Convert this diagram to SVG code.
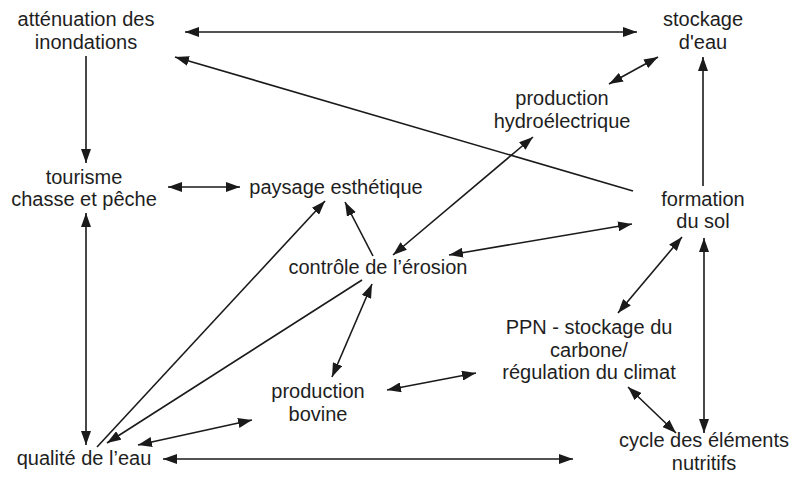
<svg xmlns="http://www.w3.org/2000/svg" width="792" height="479" viewBox="0 0 792 479">
<style>
text{font-family:"Liberation Sans",Arial,Helvetica,sans-serif;font-size:20px;fill:#1e1e1e;text-anchor:middle}
.c line{stroke:#1a1a1a;stroke-width:1.6;fill:none}
.b{marker-start:url(#ah);marker-end:url(#ah)}
.e{marker-end:url(#ah)}
</style>
<defs>
<marker id="ah" markerUnits="userSpaceOnUse" viewBox="0 0 14 10" markerWidth="14" markerHeight="10" refX="14" refY="5" orient="auto-start-reverse">
<path d="M0,0 L14,5 L0,10 z" fill="#1a1a1a"/>
</marker>
</defs>
<rect width="792" height="479" fill="#fff"/>
<g id="attenuation"><text x="86" y="26">atténuation des</text><text x="86" y="49">inondations</text></g>
<g id="stockage"><text x="703" y="26">stockage</text><text x="703" y="49">d'eau</text></g>
<g id="hydro"><text x="562" y="105">production</text><text x="562" y="128">hydroélectrique</text></g>
<g id="tourisme"><text x="84" y="184">tourisme</text><text x="84" y="206">chasse et pêche</text></g>
<g id="paysage"><text x="336" y="194">paysage esthétique</text></g>
<g id="formation"><text x="703" y="206">formation</text><text x="703" y="228">du sol</text></g>
<g id="erosion"><text x="378" y="274">contrôle de l’érosion</text></g>
<g id="ppn"><text x="589" y="334">PPN - stockage du</text><text x="589" y="357">carbone/</text><text x="589" y="379">régulation du climat</text></g>
<g id="bovine"><text x="318" y="398">production</text><text x="318" y="421">bovine</text></g>
<g id="qualite"><text x="84" y="465">qualité de l’eau</text></g>
<g id="cycle"><text x="704" y="447">cycle des éléments</text><text x="704" y="470">nutritifs</text></g>
<g id="connectors" class="c">
<line class="b" x1="185" y1="32" x2="637" y2="32"/>
<line class="e" x1="633" y1="191" x2="175" y2="57"/>
<line class="e" x1="86" y1="56" x2="86" y2="163"/>
<line class="b" x1="168" y1="187" x2="240" y2="187"/>
<line class="b" x1="86" y1="213" x2="86" y2="445"/>
<line class="e" x1="97" y1="447" x2="325" y2="201"/>
<line class="e" x1="373" y1="256" x2="345" y2="202"/>
<line class="e" x1="362" y1="280" x2="107" y2="443"/>
<line class="b" x1="372" y1="284" x2="332" y2="377"/>
<line class="b" x1="138" y1="445" x2="252" y2="420"/>
<line class="b" x1="163" y1="459" x2="573" y2="459"/>
<line class="b" x1="393" y1="255" x2="533" y2="137"/>
<line class="b" x1="609" y1="84" x2="658" y2="57"/>
<line class="e" x1="703" y1="186" x2="703" y2="57"/>
<line class="b" x1="449" y1="255" x2="632" y2="224"/>
<line class="b" x1="682" y1="237" x2="618" y2="313"/>
<line class="b" x1="704" y1="238" x2="704" y2="433"/>
<line class="b" x1="628" y1="387" x2="676" y2="433"/>
<line class="b" x1="387" y1="390" x2="476" y2="373"/>
</g>
</svg>
